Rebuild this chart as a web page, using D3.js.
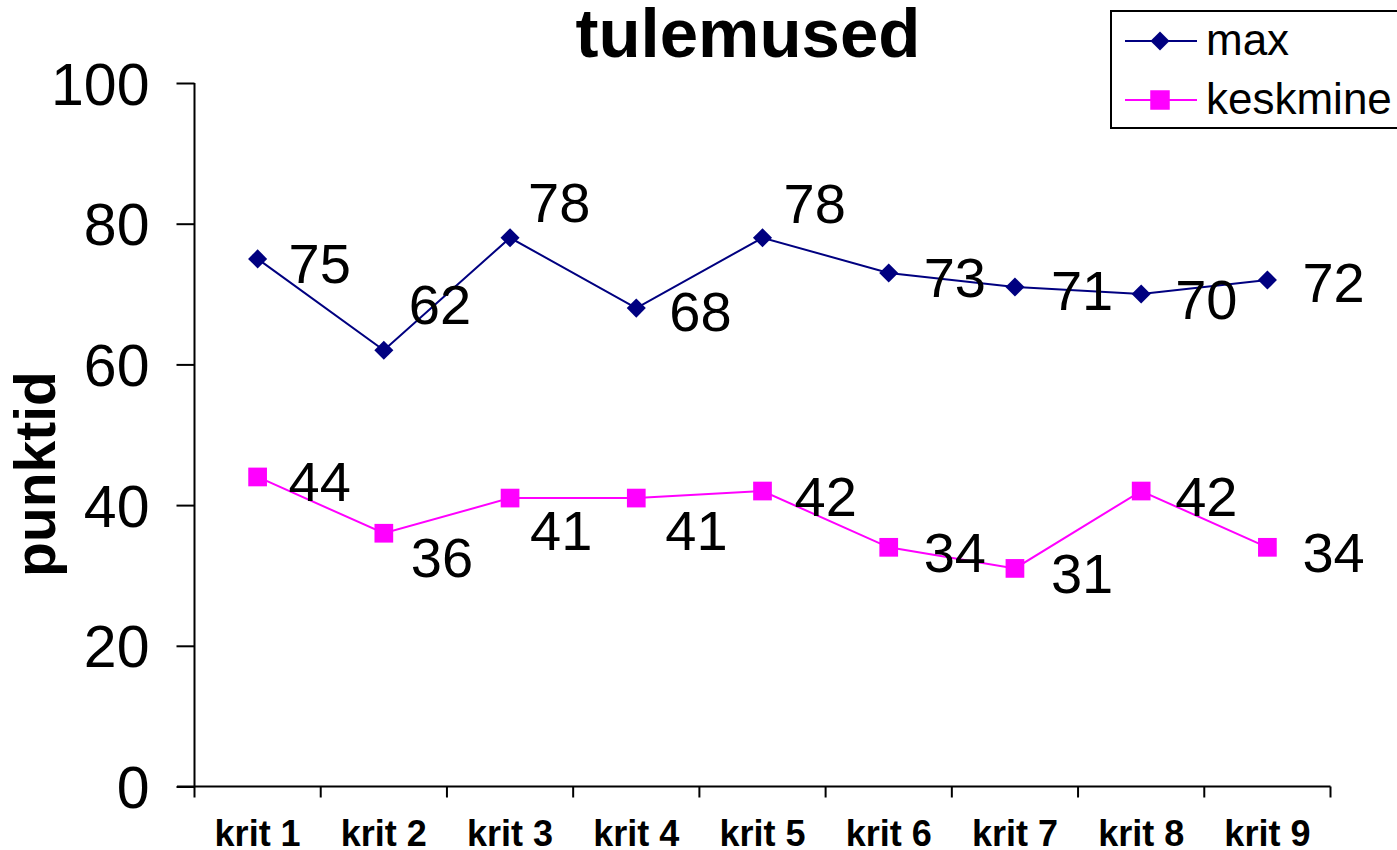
<!DOCTYPE html>
<html>
<head>
<meta charset="utf-8">
<script src="https://cdn.jsdelivr.net/npm/d3@7/dist/d3.min.js"></script>
<style>
  html, body { margin: 0; padding: 0; background: #fff; }
  svg { display: block; font-family: "Liberation Sans", Arial, sans-serif; }
</style>
</head>
<body>
<svg id="chart" width="1397" height="850"></svg>
<script>
const categories = ["krit 1", "krit 2", "krit 3", "krit 4", "krit 5", "krit 6", "krit 7", "krit 8", "krit 9"];
const maxValues = [75, 62, 78, 68, 78, 73, 71, 70, 72];
const meanValues = [44, 36, 41, 41, 42, 34, 31, 42, 34];
const yTicks = [0, 20, 40, 60, 80, 100];
const seriesNames = ["max", "keskmine"];

// layout: label offsets (left edge dx, baseline dy) relative to each point
const maxLabelOffsets = [[34, 24], [28, -26], [21, -16], [36, 23], [24, -15], [38, 24], [39, 23], [37, 25], [38, 22]];
const meanLabelOffsets = [[34, 24], [30, 44], [23, 52], [32, 52], [35, 25], [38, 25], [39, 25], [37, 25], [38, 25]];

const svg = d3.select("#chart");
const x = d3.scaleBand().domain(categories).range([194.5, 1330.5]);
const y = d3.scaleLinear().domain([0, 100]).range([786.5, 83]);

// y axis
const yAxis = svg.append("g").attr("transform", "translate(194.5,0)")
  .call(d3.axisLeft(y).tickValues(yTicks).tickSize(18).tickPadding(0).tickFormat(d3.format("d")));
yAxis.select(".domain").attr("stroke", "#000").attr("stroke-width", 2).attr("d", `M0,${y(100)}V${y(0)}`);
yAxis.selectAll(".tick line").attr("stroke", "#000").attr("stroke-width", 2);
yAxis.selectAll(".tick text").attr("x", -45).attr("dy", null).attr("y", 21)
  .attr("font-size", 59).attr("fill", "#000").attr("font-family", "Liberation Sans, Arial, sans-serif");

// x axis
const xAxis = svg.append("g").attr("transform", `translate(0,${y(0)})`)
  .call(d3.axisBottom(x).tickSize(0).tickPadding(0));
xAxis.select(".domain").attr("stroke", "#000").attr("stroke-width", 2).attr("d", `M177,0H1330.5`);
xAxis.selectAll(".tick text").attr("y", 59).attr("dy", null)
  .attr("font-size", 36).attr("font-weight", "bold").attr("fill", "#000")
  .attr("font-family", "Liberation Sans, Arial, sans-serif");
// category separator ticks
const bounds = categories.map(c => x(c)).concat([x(categories[categories.length - 1]) + x.bandwidth()]);
xAxis.selectAll(".sep").data(bounds).enter().append("line")
  .attr("x1", d => d).attr("x2", d => d).attr("y1", 0).attr("y2", 11)
  .attr("stroke", "#000").attr("stroke-width", 2);

const cx = c => x(c) + x.bandwidth() / 2;

function drawSeries(values, color, shape, offsets) {
  const pts = categories.map((c, i) => [cx(c), y(values[i])]);
  svg.append("path").attr("d", d3.line()(pts)).attr("fill", "none")
    .attr("stroke", color).attr("stroke-width", 2);
  const sym = d3.symbol().type(d3.symbolSquare).size(shape === "diamond" ? 182 : 350);
  svg.append("g").selectAll("path").data(pts).enter().append("path")
    .attr("d", sym)
    .attr("transform", d => `translate(${d[0]},${d[1]})` + (shape === "diamond" ? " rotate(45)" : ""))
    .attr("fill", color);
  svg.append("g").selectAll("text").data(pts).enter().append("text")
    .attr("x", (d, i) => d[0] + offsets[i][0] - 3)
    .attr("y", (d, i) => d[1] + offsets[i][1])
    .attr("font-size", 56).attr("fill", "#000")
    .text((d, i) => values[i]);
}
drawSeries(maxValues, "#000080", "diamond", maxLabelOffsets);
drawSeries(meanValues, "#FF00FF", "square", meanLabelOffsets);

// title
svg.append("text").attr("x", 748).attr("y", 57).attr("text-anchor", "middle")
  .attr("font-size", 69).attr("font-weight", "bold").text("tulemused");

// y axis title
svg.append("text").attr("transform", "translate(55,474) rotate(-90)").attr("text-anchor", "middle")
  .attr("font-size", 57).attr("font-weight", "bold").text("punktid");

// legend
const lg = svg.append("g");
lg.append("rect").attr("x", 1111).attr("y", 11).attr("width", 300).attr("height", 117)
  .attr("fill", "#fff").attr("stroke", "#000").attr("stroke-width", 2);
const legendColors = ["#000080", "#FF00FF"];
const legendRows = [41, 100];
seriesNames.forEach((name, i) => {
  const ly = legendRows[i];
  lg.append("line").attr("x1", 1125).attr("x2", 1197).attr("y1", ly).attr("y2", ly)
    .attr("stroke", legendColors[i]).attr("stroke-width", 2);
  const sym = d3.symbol().type(d3.symbolSquare).size(i === 0 ? 182 : 380);
  lg.append("path").attr("d", sym)
    .attr("transform", `translate(1160,${ly})` + (i === 0 ? " rotate(45)" : ""))
    .attr("fill", legendColors[i]);
  lg.append("text").attr("x", 1206).attr("y", ly + 14).attr("font-size", 44).text(name);
});
</script>
</body>
</html>
